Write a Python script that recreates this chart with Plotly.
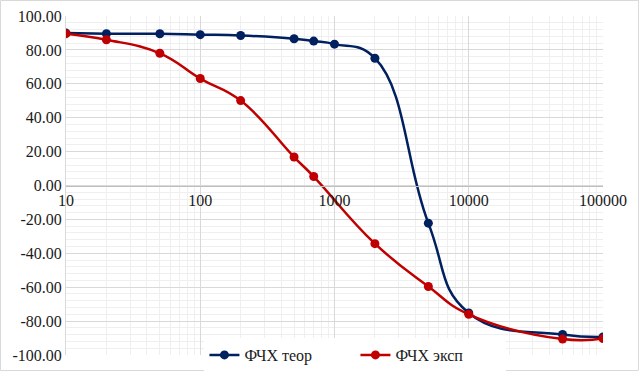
import plotly.graph_objects as go

freq_teor = [10, 20, 50, 100, 200, 500, 700, 1000, 2000, 5000, 10000, 50000, 100000]
phase_teor = [89.9, 89.6, 89.5, 89.0, 88.5, 86.6, 85.2, 83.4, 75.1, -22.2, -75.2, -87.9, -89.4]

freq_eksp = [10, 20, 50, 100, 200, 500, 700, 2000, 5000, 10000, 50000, 100000]
phase_eksp = [89.6, 86.0, 78.0, 63.1, 50.1, 16.8, 5.3, -34.3, -59.6, -76.0, -90.6, -90.3]

y_ticks = [-100, -80, -60, -40, -20, 0, 20, 40, 60, 80, 100]
y_tick_labels = ["-100.00", "-80.00", "-60.00", "-40.00", "-20.00", "0.00",
                 "20.00", "40.00", "60.00", "80.00", "100.00"]
x_tick_vals = [10, 100, 1000, 10000, 100000]
x_tick_labels = ["10", "100", "1000", "10000", "100000"]

BLUE = "#002060"
RED = "#C00000"
FONT = "Liberation Serif"

fig = go.Figure()
fig.add_trace(go.Scatter(
    x=freq_teor, y=phase_teor, name="ФЧХ теор", mode="lines+markers",
    line=dict(color=BLUE, width=2.5, shape="spline", smoothing=1.3),
    marker=dict(color=BLUE, size=9, symbol="circle"),
))
fig.add_trace(go.Scatter(
    x=freq_eksp, y=phase_eksp, name="ФЧХ эксп", mode="lines+markers",
    line=dict(color=RED, width=2.5, shape="spline", smoothing=1.3),
    marker=dict(color=RED, size=9, symbol="circle"),
))

fig.update_layout(
    width=639, height=371,
    margin=dict(l=66, r=36, t=16, b=16, autoexpand=False),
    paper_bgcolor="white", plot_bgcolor="white",
    font=dict(family=FONT, size=16, color="#1a1a1a"),
    legend=dict(orientation="h", x=0.539, xanchor="center", y=0.0, yanchor="middle",
                bgcolor="white", font=dict(family=FONT, size=16, color="#1a1a1a"),
                itemwidth=30, entrywidth=106, entrywidthmode="pixels",
                traceorder="normal"),
    xaxis=dict(
        type="log", range=[1, 5], tickvals=x_tick_vals, ticktext=x_tick_labels,
        anchor="free", position=0.5, automargin=False,
        showgrid=True, gridcolor="#d9d9d9", gridwidth=1,
        minor=dict(dtick="D1", showgrid=True, gridcolor="#efefef", ticks=""),
        showline=True, linecolor="#bfbfbf", linewidth=1,
        ticks="", zeroline=False, tickfont=dict(family=FONT, size=16, color="#1a1a1a"),
    ),
    yaxis=dict(
        range=[-100, 100], tickvals=y_ticks, ticktext=y_tick_labels, automargin=False,
        showgrid=True, gridcolor="#d9d9d9", gridwidth=1,
        minor=dict(dtick=4, showgrid=True, gridcolor="#efefef", ticks=""),
        showline=True, linecolor="#d9d9d9", linewidth=1,
        ticks="", zeroline=False, tickfont=dict(family=FONT, size=16, color="#1a1a1a"),
    ),
    shapes=[dict(type="rect", xref="paper", yref="paper",
                 x0=-0.122, x1=1.066, y0=-0.0457, y1=1.0457,
                 line=dict(color="#d9d9d9", width=1), layer="below")],
)

fig.write_html("out.html", config={"displayModeBar": False},
               post_script="document.body.style.margin='0';")
